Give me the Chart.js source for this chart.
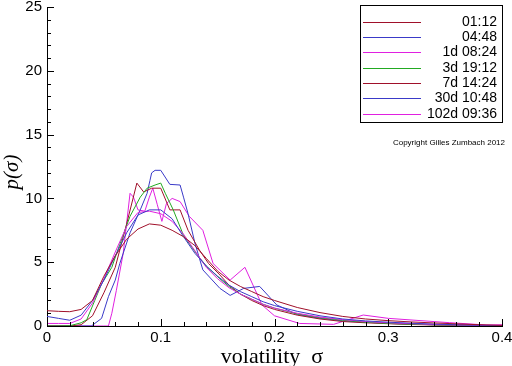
<!DOCTYPE html>
<html>
<head>
<meta charset="utf-8">
<script src="https://cdn.jsdelivr.net/npm/chart.js@4"></script>
<style>
html,body{margin:0;padding:0;background:#fff;}
canvas{display:block;}
</style>
</head>
<body>
<canvas id="c" width="512" height="366"></canvas>
<script>
// ---- data ----
const seriesLabels = ['01:12', '04:48', '1d 08:24', '3d 19:12', '7d 14:24', '30d 10:48', '102d 09:36'];
const seriesColors = ['#a0102a', '#3a3ac8', '#e020e0', '#22aa22', '#a0102a', '#3a3ac8', '#e020e0'];

const sigmaGrid = [0, .01, .02, .03, .04, .05, .06, .07, .08, .09, .1, .11, .12, .13, .14, .15, .16, .17, .18, .19, .2, .22, .24, .26, .28, .3, .32, .34, .36, .38, .4];
const p_0112 = [1.2, 1.15, 1.12, 1.3, 2.0, 3.9, 5.5, 6.8, 7.6, 8.0, 7.9, 7.5, 7.0, 6.3, 5.3, 4.3, 3.6, 3.1, 2.7, 2.3, 2.0, 1.45, 1.05, 0.75, 0.55, 0.42, 0.32, 0.24, 0.17, 0.1, 0.05];
const p_0448 = [0.75, 0.6, 0.45, 0.85, 2.0, 3.6, 5.5, 7.3, 8.7, 9.1, 9.1, 8.4, 7.0, 5.7, 4.7, 3.9, 3.2, 2.7, 2.3, 1.9, 1.6, 1.15, 0.8, 0.55, 0.4, 0.3, 0.22, 0.15, 0.1, 0.06, 0.03];
const p_1d0824 = [0.2, 0.2, 0.2, 0.55, 1.8, 3.7, 5.8, 7.8, 8.9, 9.0, 8.8, 8.2, 7.2, 5.9, 4.6, 3.7, 3.0, 2.5, 2.1, 1.7, 1.4, 1.0, 0.7, 0.5, 0.35, 0.25, 0.18, 0.12, 0.08, 0.05, 0.02];

const sigma_3d = [0, .01, .02, .03, .035, .042, .048, .057, .064, .073, .082, .088, .095, .1, .104, .111, .12, .132, .14, .152, .16, .17, .18, .19, .2, .22, .24, .26, .28, .3, .32, .34, .36, .38, .4];
const p_3d = [0, 0, 0.02, 0.25, 0.5, 2.0, 3.3, 4.6, 6.4, 8.6, 10.1, 10.8, 11.05, 11.2, 10.4, 9.1, 7.1, 5.6, 4.7, 3.7, 3.1, 2.5, 2.1, 1.7, 1.4, 0.95, 0.65, 0.45, 0.3, 0.2, 0.14, 0.1, 0.06, 0.04, 0.02];

const sigma_7d = [0, .02, .03, .04, .05, .06, .07, .079, .085, .092, .1, .108, .117, .124, .134, .142, .152, .16, .17, .18, .19, .2, .22, .24, .26, .28, .3, .32, .34, .36, .38, .4];
const p_7d = [0, 0, 0.1, 0.8, 2.6, 4.6, 8.0, 11.2, 10.5, 10.8, 10.8, 9.1, 9.1, 7.5, 5.95, 4.9, 4.0, 3.2, 2.5, 2.0, 1.6, 1.3, 0.85, 0.55, 0.35, 0.25, 0.18, 0.12, 0.08, 0.05, 0.03, 0.01];

const sigma_30d = [0, .03, .039, .048, .054, .06, .064, .073, .082, .088, .0905, .092, .095, .1, .108, .117, .12, .124, .13, .137, .152, .161, .173, .187, .202, .22, .24, .26, .28, .3, .32, .34, .36, .38, .4];
const p_30d = [0, 0, 0, 0.6, 2.3, 3.6, 4.9, 7.3, 9.1, 10.4, 11.4, 12.0, 12.2, 12.2, 11.1, 11.05, 10.1, 8.8, 6.5, 4.4, 2.95, 2.4, 2.95, 3.1, 1.65, 0.9, 0.6, 0.4, 0.3, 0.2, 0.15, 0.1, 0.07, 0.04, 0.02];

const sigma_102d = [0, .05, .054, .057, .061, .067, .073, .076, .08, .086, .09, .093, .097, .101, .105, .11, .117, .125, .137, .146, .161, .174, .189, .2, .222, .252, .278, .3, .354, .386, .4];
const p_102d = [0, 0, 0, 1.0, 2.8, 5.7, 10.4, 10.1, 9.1, 9.0, 10.1, 10.8, 9.5, 8.2, 9.6, 10.0, 9.75, 8.6, 7.5, 4.9, 3.6, 4.6, 1.65, 0.8, 0.2, 0.13, 0.86, 0.6, 0.26, 0.08, 0.1];

const xTickLabels = ['0', '0.1', '0.2', '0.3', '0.4'];
const yTickLabels = ['0', '5', '10', '15', '20', '25'];
const xTitle = 'volatility  \u03c3';
const yTitle = 'p(\u03c3)';
const copyrightText = 'Copyright Gilles Zumbach 2012';

// ---- build datasets ----
const seriesX = [sigmaGrid, sigmaGrid, sigmaGrid, sigma_3d, sigma_7d, sigma_30d, sigma_102d];
const seriesY = [p_0112, p_0448, p_1d0824, p_3d, p_7d, p_30d, p_102d];
const datasets = seriesLabels.map((lab, i) => ({
  label: lab,
  data: seriesX[i].map((x, j) => ({x: x, y: seriesY[i][j]})),
  borderColor: seriesColors[i],
  backgroundColor: seriesColors[i],
  borderWidth: 1,
  pointRadius: 0,
  tension: 0,
  fill: false
}));

const decor = {
  id: 'decor',
  afterDraw(chart) {
    const ctx = chart.ctx;
    const xs = chart.scales.x, ys = chart.scales.y;
    const ca = chart.chartArea;
    ctx.save();
    ctx.strokeStyle = '#000';
    ctx.lineWidth = 1;
    ctx.beginPath();
    // inward y ticks
    for (let v = 0; v <= 25; v += 1) {
      const py = Math.round(ys.getPixelForValue(v)) + 0.5;
      const len = (v % 5 === 0) ? 7 : 4;
      ctx.moveTo(ca.left, py); ctx.lineTo(ca.left + len, py);
    }
    // inward x ticks
    for (let k = 0; k <= 20; k++) {
      const v = k * 0.02;
      const px = Math.round(xs.getPixelForValue(v)) + 0.5;
      const len = (k % 5 === 0) ? 7 : 4;
      ctx.moveTo(px, ca.bottom); ctx.lineTo(px, ca.bottom - len);
    }
    ctx.stroke();

    // axis titles
    ctx.fillStyle = '#000';
    ctx.font = '22px "Liberation Serif"';
    ctx.textAlign = 'center';
    ctx.textBaseline = 'alphabetic';
    ctx.fillText(xTitle, 272, 363);
    ctx.save();
    ctx.translate(18, 172);
    ctx.rotate(-Math.PI / 2);
    ctx.font = 'italic 21px "Liberation Serif"';
    ctx.fillText(yTitle, 0, 0);
    ctx.restore();

    // legend
    const bx = 360.5, by = 5.5, bw = 142, bh = 117;
    ctx.fillStyle = '#fff';
    ctx.fillRect(bx, by, bw, bh);
    ctx.strokeStyle = '#000';
    ctx.strokeRect(bx, by, bw, bh);
    ctx.font = '14px "Liberation Sans"';
    ctx.textAlign = 'right';
    ctx.textBaseline = 'middle';
    chart.data.datasets.forEach((ds, i) => {
      const ry = Math.round(21.7 + i * 15.3) + 0.5;
      ctx.strokeStyle = ds.borderColor;
      ctx.beginPath();
      ctx.moveTo(363, ry); ctx.lineTo(421, ry);
      ctx.stroke();
      ctx.fillStyle = '#000';
      ctx.fillText(ds.label, 497, ry);
    });

    ctx.font = '8px "Liberation Sans"';
    ctx.textAlign = 'right';
    ctx.fillText(copyrightText, 505, 143);
    ctx.restore();
  }
};

new Chart(document.getElementById('c'), {
  type: 'line',
  data: {datasets: datasets},
  options: {
    responsive: false,
    animation: false,
    devicePixelRatio: 1,
    layout: {padding: {top: 7, right: 10, left: 0, bottom: 0}},
    plugins: {legend: {display: false}, tooltip: {enabled: false}},
    scales: {
      x: {
        type: 'linear', min: 0, max: 0.4,
        grid: {drawOnChartArea: false, drawTicks: false},
        border: {display: true, color: '#000', width: 1},
        ticks: {
          stepSize: 0.1, padding: 3, color: '#000',
          font: {family: 'Liberation Sans', size: 15},
          callback: (v, i) => xTickLabels[i]
        },
        afterFit(s) { s.height = 40; s.paddingLeft = 0; s.paddingRight = 0; }
      },
      y: {
        type: 'linear', min: 0, max: 25,
        grid: {drawOnChartArea: false, drawTicks: false},
        border: {display: true, color: '#000', width: 1},
        ticks: {
          stepSize: 5, padding: 5, color: '#000',
          font: {family: 'Liberation Sans', size: 15},
          callback: (v, i) => yTickLabels[i]
        },
        afterFit(s) { s.width = 47; s.paddingTop = 0; s.paddingBottom = 0; }
      }
    }
  },
  plugins: [decor]
});
</script>
</body>
</html>
